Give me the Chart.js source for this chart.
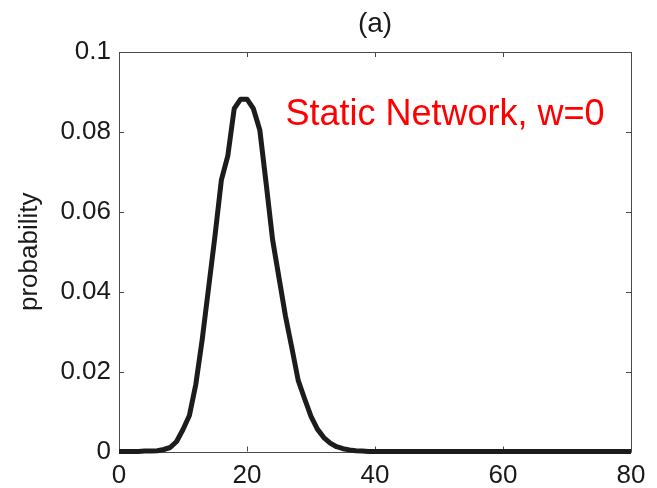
<!DOCTYPE html>
<html>
<head>
<meta charset="utf-8">
<script src="https://cdn.jsdelivr.net/npm/chart.js@4"></script>
<style>
  html, body { margin: 0; padding: 0; background: #ffffff; }
  #wrap { width: 657px; height: 488px; }
</style>
</head>
<body>
<div id="wrap"><canvas id="c" width="657" height="488"></canvas></div>
<script>
// Degree value (x) and its probability (y)
const degrees = [
  0, 1, 2, 3, 4, 5, 6, 7, 8, 9,
  10, 11, 12, 13, 14, 15, 16, 17, 18, 19,
  20, 21, 22, 23, 24, 25, 26, 27, 28, 29,
  30, 31, 32, 33, 34, 35, 36, 37, 38, 39,
  40, 45, 50, 55, 60, 65, 70, 75, 80
];
const probability = [
  0, 0, 0, 0, 0.0001, 0.0001, 0.0002, 0.0005, 0.001, 0.0025,
  0.0055, 0.009, 0.0168, 0.028, 0.041, 0.054, 0.068, 0.074, 0.0858, 0.0882,
  0.0882, 0.0858, 0.0805, 0.067, 0.053, 0.0435, 0.034, 0.026, 0.0178, 0.0132,
  0.0088, 0.0056, 0.0035, 0.0021, 0.0012, 0.0007, 0.0004, 0.0002, 0.0001, 0,
  0, 0, 0, 0, 0, 0, 0, 0, 0
];
const xTickValues = [0, 20, 40, 60, 80];
const yTickValues = [0, 0.02, 0.04, 0.06, 0.08, 0.1];
const yTickLabels = ['0', '0.02', '0.04', '0.06', '0.08', '0.1'];
const panelTitle = '(a)';
const yAxisTitle = 'probability';
const noteText = 'Static Network, w=0';
const notePos = { x: 26, y: 0.0818 };

const points = degrees.map((d, i) => ({ x: d, y: probability[i] }));
const FONT = "'Liberation Sans', Arial, Helvetica, sans-serif";

// Frame, inward tick marks, panel title and the in-plot note
const framePlugin = {
  id: 'frame',
  beforeDatasetsDraw(chart) {
    const { ctx, chartArea: a, scales: { x, y } } = chart;
    ctx.save();
    ctx.strokeStyle = '#4a4a4a';
    ctx.lineWidth = 1;
    ctx.beginPath();
    ctx.rect(Math.round(a.left) + 0.5, Math.round(a.top) + 0.5,
             Math.round(a.right - a.left), Math.round(a.bottom - a.top));
    ctx.stroke();
    const tl = 5;
    ctx.beginPath();
    xTickValues.forEach(v => {
      const px = Math.round(x.getPixelForValue(v)) + 0.5;
      ctx.moveTo(px, a.bottom); ctx.lineTo(px, a.bottom - tl);
      ctx.moveTo(px, a.top); ctx.lineTo(px, a.top + tl);
    });
    yTickValues.forEach(v => {
      const py = Math.round(y.getPixelForValue(v)) + 0.5;
      ctx.moveTo(a.left, py); ctx.lineTo(a.left + tl, py);
      ctx.moveTo(a.right, py); ctx.lineTo(a.right - tl, py);
    });
    ctx.stroke();
    ctx.restore();
  },
  afterDatasetsDraw(chart) {
    const { ctx, chartArea: a, scales: { x, y } } = chart;
    ctx.save();
    ctx.fillStyle = '#1a1a1a';
    ctx.font = '28px ' + FONT;
    ctx.textAlign = 'center';
    ctx.textBaseline = 'middle';
    ctx.fillText(panelTitle, (a.left + a.right) / 2, 24);
    ctx.fillStyle = '#ff0000';
    ctx.font = '36px ' + FONT;
    ctx.textAlign = 'left';
    ctx.textBaseline = 'alphabetic';
    ctx.fillText(noteText, x.getPixelForValue(notePos.x), y.getPixelForValue(notePos.y));
    ctx.restore();
  }
};

new Chart(document.getElementById('c'), {
  type: 'line',
  data: {
    datasets: [{
      data: points,
      borderColor: '#1c1c1c',
      borderWidth: 5,
      borderJoinStyle: 'round',
      borderCapStyle: 'butt',
      pointRadius: 0,
      fill: false,
      tension: 0,
      clip: { left: 0, top: 5, right: 0, bottom: 5 }
    }]
  },
  options: {
    responsive: false,
    animation: false,
    devicePixelRatio: 1,
    layout: { padding: { top: 52, right: 26, bottom: 0, left: 0 } },
    plugins: { legend: { display: false }, tooltip: { enabled: false }, title: { display: false } },
    scales: {
      x: {
        type: 'linear',
        min: 0, max: 80,
        afterBuildTicks(scale) { scale.ticks = xTickValues.map(v => ({ value: v })); },
        ticks: { color: '#1a1a1a', font: { family: FONT, size: 26 }, padding: 9, maxRotation: 0 },
        grid: { display: false, drawTicks: false },
        border: { display: false },
        afterFit(scale) { scale.height = 36.5; }
      },
      y: {
        type: 'linear',
        min: 0, max: 0.1,
        afterBuildTicks(scale) { scale.ticks = yTickValues.map(v => ({ value: v })); },
        ticks: {
          color: '#1a1a1a', font: { family: FONT, size: 26 }, padding: 8,
          callback: (v) => yTickLabels[yTickValues.findIndex(t => Math.abs(t - v) < 1e-9)]
        },
        grid: { display: false, drawTicks: false },
        border: { display: false },
        title: { display: true, text: yAxisTitle, color: '#1a1a1a', font: { family: FONT, size: 26 }, padding: { top: 14, bottom: 0 } },
        afterFit(scale) { scale.width = 119; }
      }
    }
  },
  plugins: [framePlugin]
});
</script>
</body>
</html>
